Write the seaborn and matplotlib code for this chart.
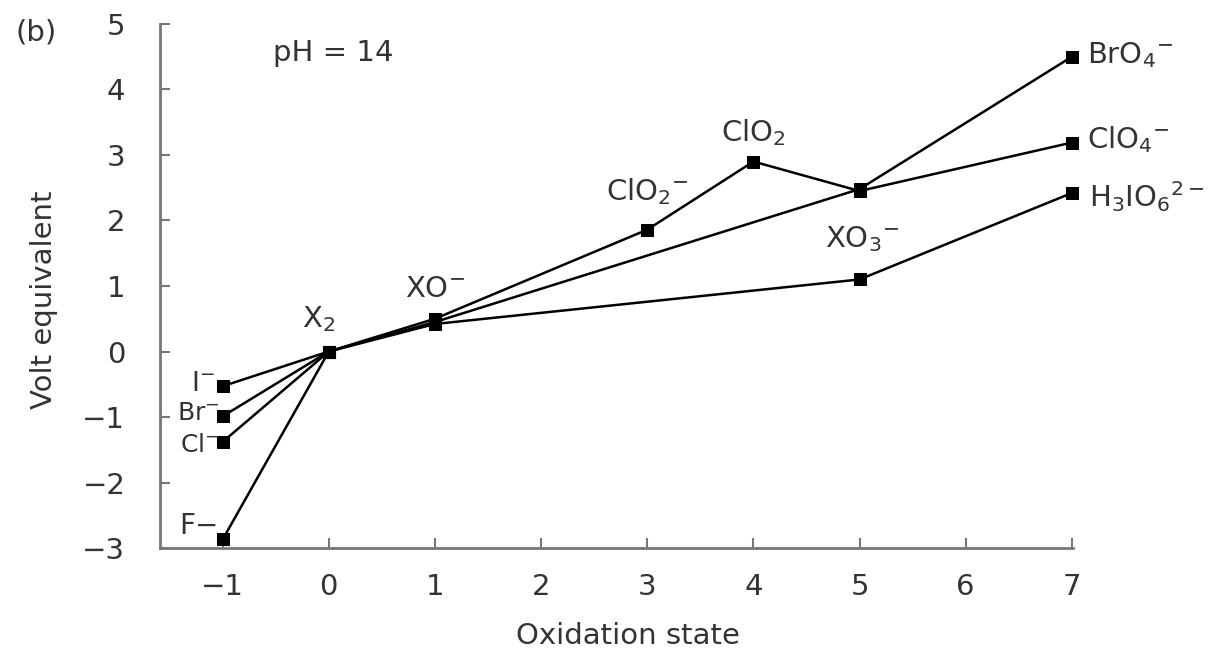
import matplotlib
matplotlib.use("Agg")
import matplotlib.pyplot as plt
import pandas as pd
import seaborn as sns

# Frost diagram of the halogens at pH 14
ox_F = [-1, 0]
volt_F = [-2.87, 0.0]
ox_Cl = [-1, 0, 1, 3, 4, 5, 7]
volt_Cl = [-1.38, 0.0, 0.50, 1.86, 2.90, 2.45, 3.19]
ox_Br = [-1, 0, 1, 5, 7]
volt_Br = [-0.99, 0.0, 0.45, 2.48, 4.50]
ox_I = [-1, 0, 1, 5, 7]
volt_I = [-0.53, 0.0, 0.42, 1.10, 2.42]

# species labels: (text, x, y, ha, size)
labels = [
    (r"I$^{-}$", -1.08, -0.49, "right", 19),
    (r"Br$^{-}$", -1.03, -0.94, "right", 18),
    (r"Cl$^{-}$", -1.03, -1.42, "right", 18),
    (r"F$\mathregular{-}$", -1.05, -2.67, "right", 20),
    (r"X$_2$", -0.10, 0.49, "center", 21),
    (r"XO$^{-}$", 1.00, 0.95, "center", 21),
    (r"ClO$_2$$^{-}$", 3.00, 2.44, "center", 21),
    (r"ClO$_2$", 4.00, 3.34, "center", 21),
    (r"XO$_3$$^{-}$", 5.02, 1.71, "center", 21),
    (r"BrO$_4$$^{-}$", 7.14, 4.53, "left", 21),
    (r"ClO$_4$$^{-}$", 7.14, 3.24, "left", 21),
    (r"H$_3$IO$_6$$^{2-}$", 7.16, 2.37, "left", 21),
]

frames = []
for name, xs, ys in [("F", ox_F, volt_F), ("Cl", ox_Cl, volt_Cl),
                     ("Br", ox_Br, volt_Br), ("I", ox_I, volt_I)]:
    frames.append(pd.DataFrame({"halogen": name, "ox": xs, "volt": ys}))
df = pd.concat(frames, ignore_index=True)

sns.set_style("ticks")
plt.rcParams["font.family"] = ["DejaVu Sans"]
plt.rcParams["mathtext.fontset"] = "dejavusans"
plt.rcParams["mathtext.default"] = "regular"

txt = "#333333"
fs = 21

fig = plt.figure(figsize=(12.14, 6.52), dpi=100)
ax = fig.add_axes([0.1318, 0.1595, 0.752, 0.8037])

sns.lineplot(data=df, x="ox", y="volt", units="halogen", estimator=None,
             sort=False, color="black", linewidth=1.8, marker="s",
             markersize=8, markeredgecolor="black", clip_on=False, ax=ax)

ax.set_xlim(-1.59, 7.01)
ax.set_ylim(-3, 5)
ax.set_xticks(range(-1, 8))
ax.set_yticks(range(-3, 6))
ax.set_xticklabels(["\u22121"] + [str(i) for i in range(0, 8)])
ax.set_yticklabels(["\u22123", "\u22122", "\u22121"] + [str(i) for i in range(0, 6)])

sns.despine(ax=ax)
for s in ("left", "bottom"):
    ax.spines[s].set_color("#777777")
    ax.spines[s].set_linewidth(2)
ax.tick_params(direction="in", length=7, width=1.5, color="#777777",
               labelsize=fs, labelcolor=txt)
ax.tick_params(axis="x", pad=18)
ax.tick_params(axis="y", pad=25)

ax.set_xlabel("Oxidation state", fontsize=fs, color=txt)
ax.set_ylabel("Volt equivalent", fontsize=fs, color=txt)
ax.xaxis.set_label_coords(0.513, -0.141)
ax.yaxis.set_label_coords(-0.112, 0.473)

for t, x, y, ha, size in labels:
    ax.text(x, y, t, ha=ha, va="center", fontsize=size, color=txt)

ax.text(-0.53, 4.56, "pH = 14", ha="left", va="center", fontsize=fs, color=txt)
fig.text(15 / 1214, 1 - 33 / 652, "(b)", ha="left", va="center",
         fontsize=fs, color=txt)

fig.savefig("out.png", dpi=100)
